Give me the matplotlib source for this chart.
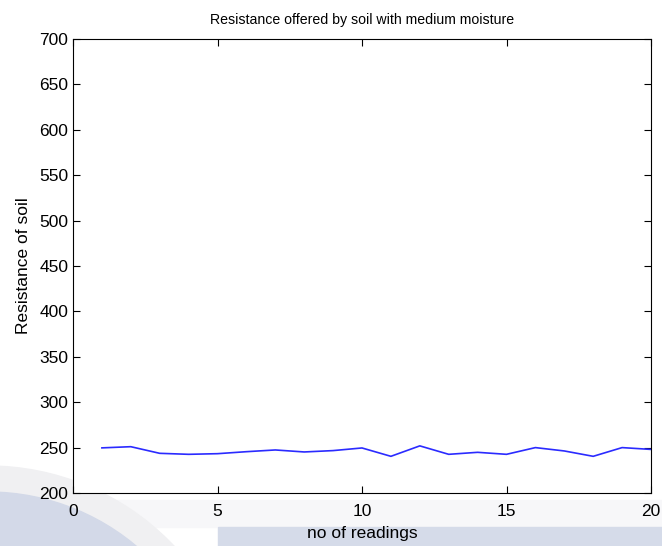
import matplotlib
matplotlib.use("Agg")
import matplotlib.pyplot as plt
from matplotlib.patches import Rectangle, Circle

plt.rcParams['font.family'] = ['Liberation Sans', 'DejaVu Sans']

# readings taken from the chart
readings = list(range(1, 21))
resistance = [249.7, 251, 243.7, 242.6, 243.3, 245.5, 247.4, 245.2, 246.7, 249.6,
              240.4, 251.9, 242.6, 244.8, 242.6, 250, 246.3, 240.4, 250, 248]

fig = plt.figure(figsize=(6.62, 5.46), dpi=100)

# scanned-page background: faint logo disc at bottom left and a band at the bottom
fig.patches.append(Rectangle((0, 19 / 546), 1, 27 / 546, transform=fig.transFigure,
                             color='#f7f7f9', zorder=0))
fig.patches.append(Circle((-12, -176), 256, transform=None, color='#f0f0f2', zorder=0))
fig.patches.append(Circle((-12, -176), 230, transform=None, color='#d3d9e8', zorder=0))
fig.patches.append(Rectangle((218 / 662, 0), 1, 19 / 546, transform=fig.transFigure,
                             color='#d5dbe9', zorder=0))

ax = fig.add_axes([73 / 662, 53 / 546, 578 / 662, 454 / 546])
ax.set_zorder(2)

ax.plot(readings, resistance, color='#2b2bff', linewidth=1.2)

ax.set_xlim(0, 20)
ax.set_ylim(200, 700)
ax.set_xticks([0, 5, 10, 15, 20])
ax.set_yticks(range(200, 701, 50))
ax.tick_params(direction='in', top=True, right=True, labelsize=12.5, length=5)
ax.tick_params(axis='x', pad=8)
ax.set_xlabel("no of readings", fontsize=12.5, labelpad=5)
ax.set_ylabel("Resistance of soil", fontsize=12.5, labelpad=6)
ax.set_title("Resistance offered by soil with medium moisture", fontsize=10.2, pad=11)

fig.savefig("out.png", dpi=100)
